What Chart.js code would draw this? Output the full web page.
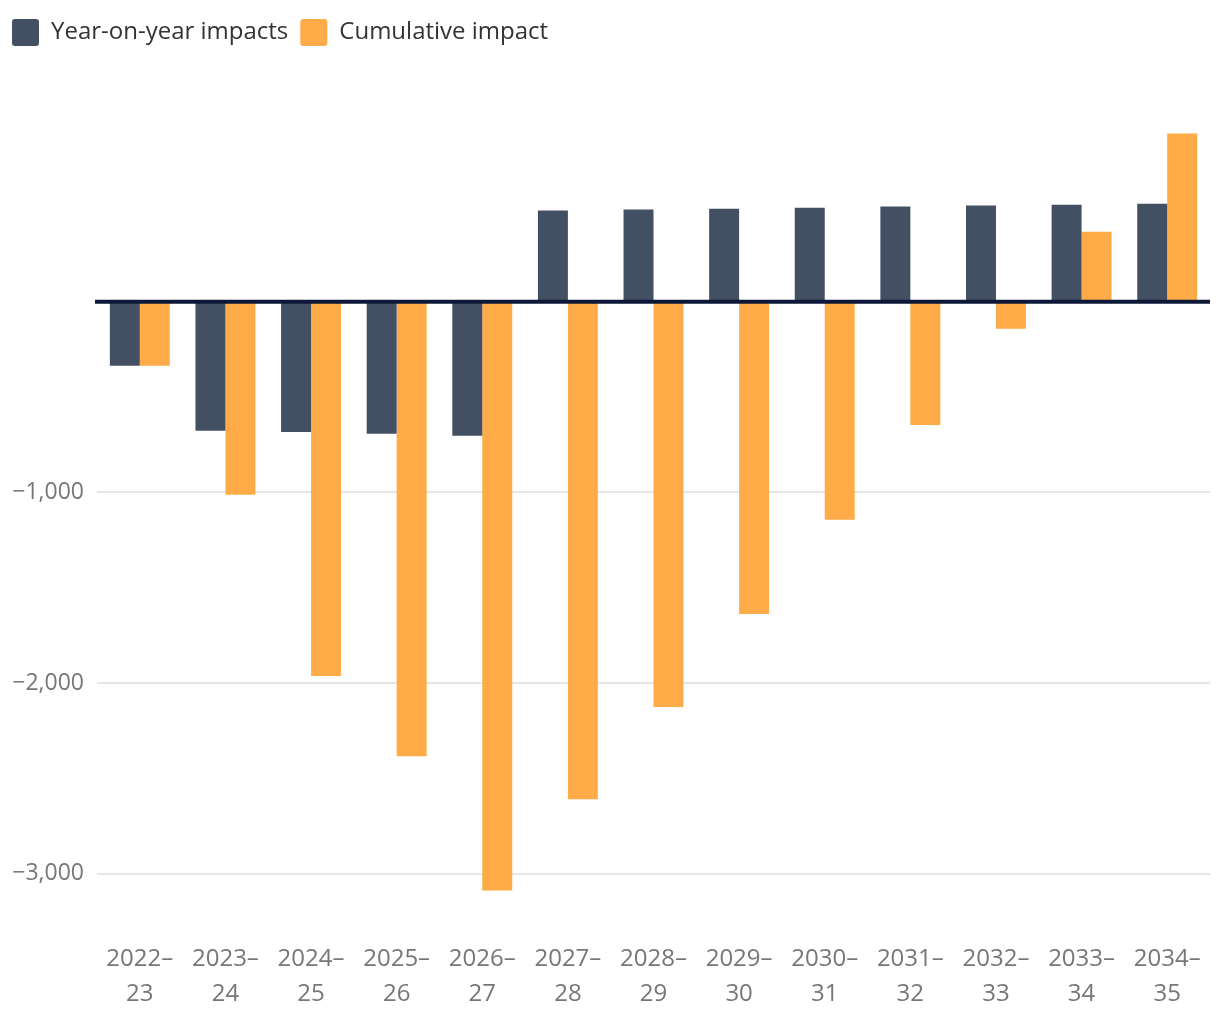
<!DOCTYPE html>
<html lang="en">
<head>
    <meta charset="UTF-8">
    <title>Year-on-year and cumulative impact</title>
    <script src="https://cdn.jsdelivr.net/npm/chart.js"></script>
    <style>
        html, body { margin: 0; padding: 0; background: #fff; }
        .chart-container { width: 1220px; height: 1020px; }
    </style>
</head>
<body>
    <div class="chart-container">
        <canvas id="barChart"></canvas>
    </div>

    <script>
        // data
        const years = [
            ["2022–", "23"], ["2023–", "24"], ["2024–", "25"], ["2025–", "26"],
            ["2026–", "27"], ["2027–", "28"], ["2028–", "29"], ["2029–", "30"],
            ["2030–", "31"], ["2031–", "32"], ["2032–", "33"], ["2033–", "34"],
            ["2034–", "35"]
        ];
        const yearOnYear = [-336, -677, -683, -693, -703, 478, 483, 488, 493, 499, 504, 509, 514];
        const cumulative = [-336, -1013, -1963, -2383, -3087, -2609, -2126, -1638, -1144, -646, -142, 367, 882];
        const yTicks = [-3000, -2000, -1000, 0, 1000];

        const fontFamily = "'Open Sans', 'Noto Sans', sans-serif";

        // thick dark line at zero, drawn above the bars
        const zeroLine = {
            id: 'zeroLine',
            afterDatasetsDraw(chart) {
                const { ctx, chartArea, scales } = chart;
                const y = scales.y.getPixelForValue(0);
                ctx.save();
                ctx.strokeStyle = '#0d1838';
                ctx.lineWidth = 4;
                ctx.beginPath();
                ctx.moveTo(chartArea.left - 2, y);
                ctx.lineTo(chartArea.right, y);
                ctx.stroke();
                ctx.restore();
            }
        };

        // extra room under the legend
        const legendMargin = {
            id: 'legendMargin',
            beforeInit(chart) {
                const fit = chart.legend.fit;
                chart.legend.fit = function () {
                    fit.bind(chart.legend)();
                    this.height += 55;
                };
            }
        };

        const ctx = document.getElementById('barChart').getContext('2d');
        new Chart(ctx, {
            type: 'bar',
            data: {
                labels: years,
                datasets: [{
                    label: 'Year-on-year impacts',
                    data: yearOnYear,
                    backgroundColor: '#434f63'
                }, {
                    label: 'Cumulative impact',
                    data: cumulative,
                    backgroundColor: '#ffab47'
                }]
            },
            options: {
                responsive: true,
                maintainAspectRatio: false,
                animation: false,
                layout: { padding: { top: 7, right: 10, left: 0, bottom: 0 } },
                datasets: {
                    bar: { barPercentage: 1.0, categoryPercentage: 0.7 }
                },
                plugins: {
                    legend: {
                        position: 'top',
                        align: 'start',
                        labels: {
                            boxWidth: 27,
                            boxHeight: 27,
                            padding: 12,
                            color: '#333333',
                            font: { family: fontFamily, size: 24 },
                            useBorderRadius: true,
                            borderRadius: 3,
                            generateLabels(chart) {
                                const items = Chart.defaults.plugins.legend.labels.generateLabels(chart);
                                items.forEach(i => { i.lineWidth = 0; i.borderRadius = 3; });
                                return items;
                            }
                        }
                    },
                    tooltip: { enabled: false }
                },
                scales: {
                    x: {
                        afterFit(scale) { scale.height = 89; },
                        grid: { display: false, drawTicks: false },
                        border: { display: false },
                        ticks: {
                            color: '#777777',
                            padding: 11,
                            maxRotation: 0,
                            autoSkip: false,
                            font: { family: fontFamily, size: 24, lineHeight: 1.45 }
                        }
                    },
                    y: {
                        min: -3300,
                        max: 1000,
                        afterFit(scale) { scale.width = 97; },
                        afterBuildTicks(scale) {
                            scale.ticks = yTicks.map(v => ({ value: v }));
                        },
                        grid: {
                            drawTicks: false,
                            lineWidth: 2,
                            color: c => c.tick.value < 0 ? '#e6e6e6' : 'transparent'
                        },
                        border: { display: false },
                        ticks: {
                            padding: 13,
                            color: '#777777',
                            font: { family: fontFamily, size: 23 },
                            callback: v => v < 0 ? '−' + Math.abs(v).toLocaleString('en-US') : ''
                        }
                    }
                }
            },
            plugins: [zeroLine, legendMargin]
        });
    </script>
</body>
</html>
